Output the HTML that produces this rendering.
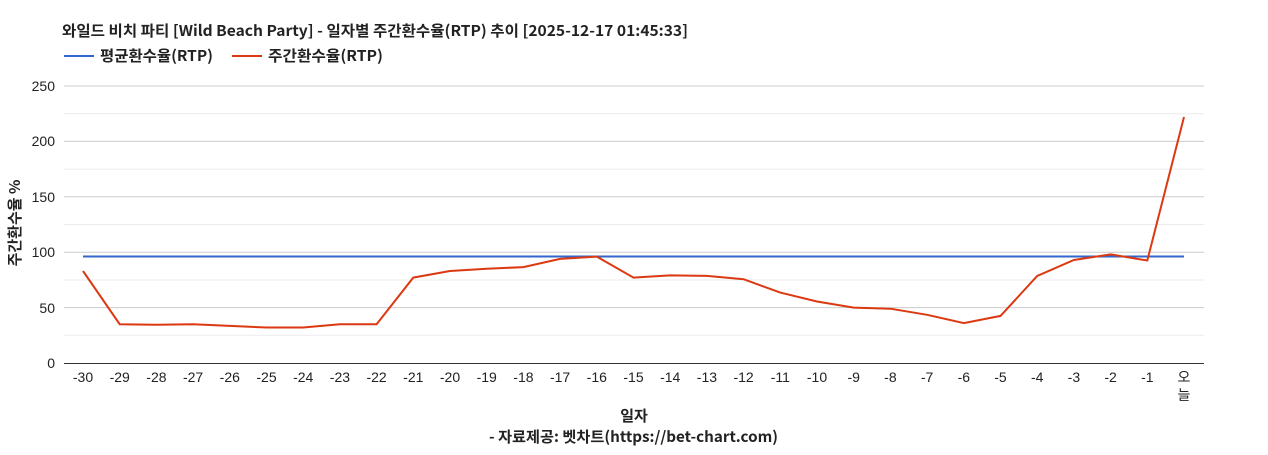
<!DOCTYPE html>
<html><head><meta charset="utf-8"><style>
body{margin:0;background:#fff;width:1268px;height:450px;overflow:hidden}
text{font-family:"Liberation Sans","Noto Sans CJK KR",sans-serif}
.k{font-family:"Noto Sans CJK KR",sans-serif}
</style></head><body>
<svg width="1268" height="450" xmlns="http://www.w3.org/2000/svg">
<text class="k" x="62" y="36" font-size="15" font-weight="bold" fill="#222" textLength="626" lengthAdjust="spacingAndGlyphs">와일드 비치 파티 [Wild Beach Party] - 일자별 주간환수율(RTP) 추이 [2025-12-17 01:45:33]</text>
<line x1="64" y1="56" x2="94" y2="56" stroke="#3366cc" stroke-width="2"/>
<text class="k" x="100" y="61" font-size="15" font-weight="bold" fill="#222" textLength="113" lengthAdjust="spacingAndGlyphs">평균환수율(RTP)</text>
<line x1="232" y1="56" x2="262" y2="56" stroke="#dc3912" stroke-width="2"/>
<text class="k" x="268" y="61" font-size="15" font-weight="bold" fill="#222" textLength="115" lengthAdjust="spacingAndGlyphs">주간환수율(RTP)</text>
<g stroke="#ebebeb" stroke-width="1">
<line x1="64" x2="1204" y1="335.3" y2="335.3"/><line x1="64" x2="1204" y1="280" y2="280"/><line x1="64" x2="1204" y1="224.5" y2="224.5"/><line x1="64" x2="1204" y1="169.1" y2="169.1"/><line x1="64" x2="1204" y1="113.7" y2="113.7"/>
</g>
<g stroke="#cccccc" stroke-width="1">
<line x1="64" x2="1204" y1="307.6" y2="307.6"/><line x1="64" x2="1204" y1="252.2" y2="252.2"/><line x1="64" x2="1204" y1="196.8" y2="196.8"/><line x1="64" x2="1204" y1="141.4" y2="141.4"/><line x1="64" x2="1204" y1="86" y2="86"/>
</g>
<line x1="64" x2="1204" y1="363.5" y2="363.5" stroke="#333"/>
<g font-size="14" fill="#222" text-anchor="end">
<text x="55" y="368">0</text><text x="55" y="313">50</text><text x="55" y="257">100</text><text x="55" y="202">150</text><text x="55" y="146">200</text><text x="55" y="91">250</text>
</g>
<text class="k" transform="translate(20,223) rotate(-90)" font-size="15" font-weight="bold" fill="#222" text-anchor="middle">주간환수율 %</text>
<g font-size="14" fill="#222" text-anchor="middle">
<text x="83" y="382">-30</text><text x="119.7" y="382">-29</text><text x="156.4" y="382">-28</text><text x="193.1" y="382">-27</text><text x="229.8" y="382">-26</text><text x="266.5" y="382">-25</text><text x="303.2" y="382">-24</text><text x="339.9" y="382">-23</text><text x="376.6" y="382">-22</text><text x="413.3" y="382">-21</text><text x="450" y="382">-20</text><text x="486.7" y="382">-19</text><text x="523.4" y="382">-18</text><text x="560.1" y="382">-17</text><text x="596.8" y="382">-16</text><text x="633.5" y="382">-15</text><text x="670.2" y="382">-14</text><text x="706.9" y="382">-13</text><text x="743.6" y="382">-12</text><text x="780.3" y="382">-11</text><text x="817" y="382">-10</text><text x="853.7" y="382">-9</text><text x="890.4" y="382">-8</text><text x="927.1" y="382">-7</text><text x="963.8" y="382">-6</text><text x="1000.5" y="382">-5</text><text x="1037.2" y="382">-4</text><text x="1073.9" y="382">-3</text><text x="1110.6" y="382">-2</text><text x="1147.3" y="382">-1</text><text x="1184" y="382">오</text><text x="1184" y="400">늘</text>
</g>
<text class="k" x="634" y="421" font-size="15" font-weight="bold" fill="#222" text-anchor="middle">일자</text>
<text class="k" x="489" y="442" font-size="15" font-weight="bold" fill="#222" textLength="289" lengthAdjust="spacingAndGlyphs">- 자료제공: 벳차트(https://bet-chart.com)</text>
<line x1="83" x2="1184" y1="256.5" y2="256.5" stroke="#3366cc" stroke-width="2"/>
<polyline fill="none" stroke="#dc3912" stroke-width="2" points="83,271 119.7,324.2 156.4,324.8 193.1,324.2 229.8,325.9 266.5,327.5 303.2,327.5 339.9,324.2 376.6,324.2 413.3,277.6 450,271 486.7,268.8 523.4,267.1 560.1,258.9 596.8,256.6 633.5,277.6 670.2,275.4 706.9,275.9 743.6,279.2 780.3,292.6 817,301.5 853.7,307.6 890.4,308.7 927.1,314.8 963.8,323.1 1000.5,315.9 1037.2,276 1073.9,260 1110.6,254.4 1147.3,260.5 1184,117"/>
</svg>
</body></html>
